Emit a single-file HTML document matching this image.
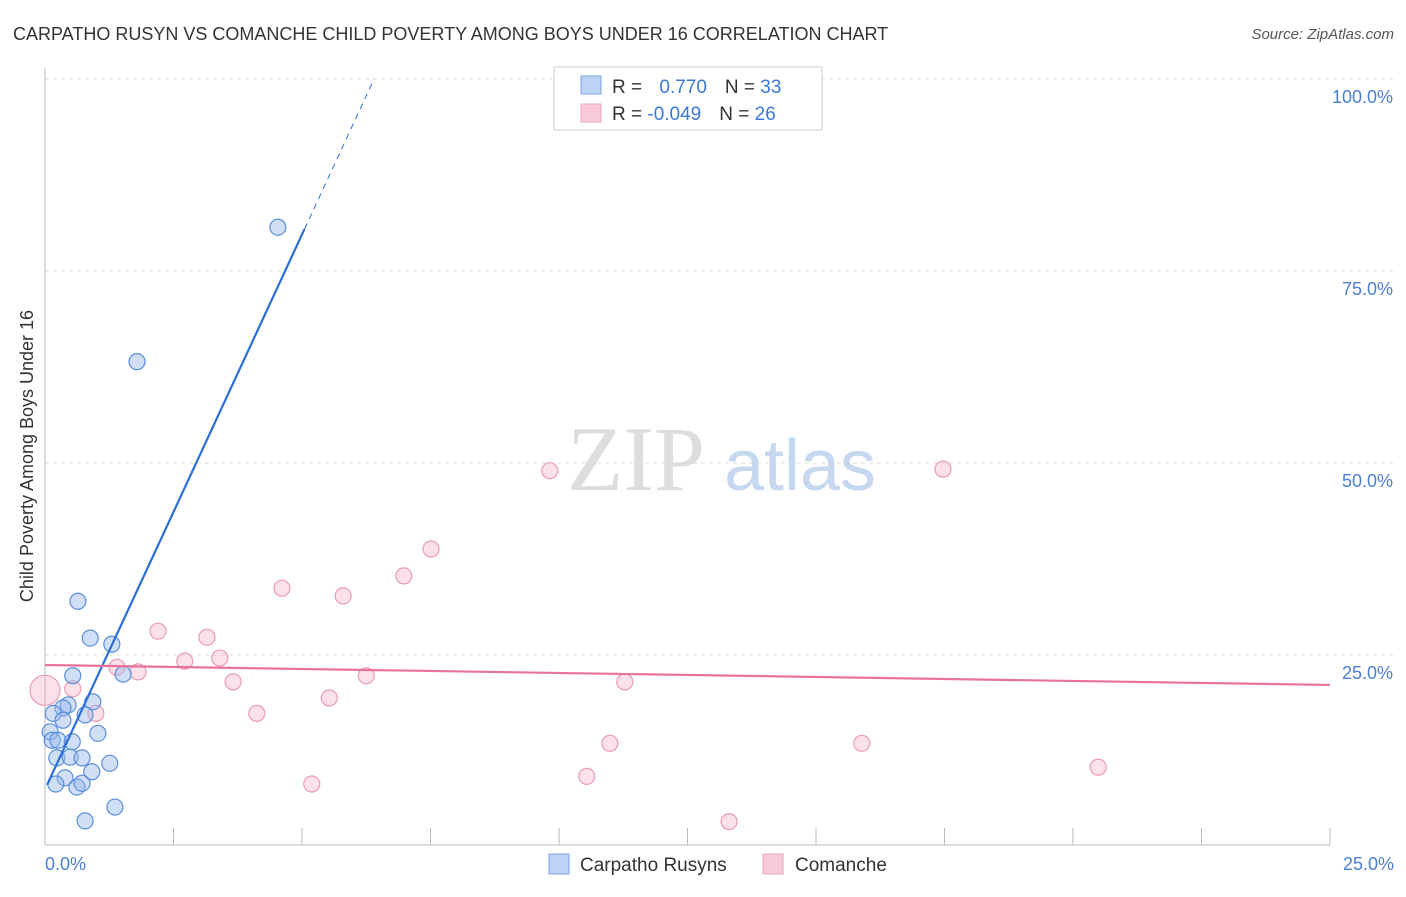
<!DOCTYPE html>
<html><head><meta charset="utf-8"><style>
body{margin:0;background:#fff;font-family:"Liberation Sans",sans-serif}
</style></head><body>
<svg width="1406" height="892" xmlns="http://www.w3.org/2000/svg">
<text x="13" y="40" font-size="18" fill="#333">CARPATHO RUSYN VS COMANCHE CHILD POVERTY AMONG BOYS UNDER 16 CORRELATION CHART</text>
<text x="1394" y="39" font-size="15" fill="#555" font-style="italic" text-anchor="end">Source: ZipAtlas.com</text>
<g id="grid"></g>
<g>
<text x="636" y="490" font-size="92" fill="#ddd" font-family="Liberation Serif" text-anchor="middle">ZIP</text>
<text x="800" y="490" font-size="72" fill="#c5d8f0" text-anchor="middle">atlas</text>
</g>
<line x1="45" y1="68" x2="45" y2="845" stroke="#bbb"/>
<line x1="45" y1="845" x2="1330" y2="845" stroke="#bbb"/>
<g id="xticks"></g>
<g id="ylabels"></g>
<text x="45" y="870" font-size="18" fill="#4a7fd4">0.0%</text>
<text x="1394" y="870" font-size="18" fill="#4a7fd4" text-anchor="end">25.0%</text>
<text transform="translate(33,456) rotate(-90)" font-size="18" fill="#333" text-anchor="middle">Child Poverty Among Boys Under 16</text>
<g id="pts"></g>
<g id="lines"></g>
<g>
<rect x="554" y="67" width="268" height="63" fill="#fff" stroke="#ccc"/>
<rect x="581" y="76" width="20" height="18" fill="#bcd3f5" stroke="#7ba3e0"/>
<rect x="581" y="104" width="20" height="18" fill="#f9cad9" stroke="#eba5bd"/>
<text x="612" y="93" font-size="19" fill="#333">R = <tspan fill="#3a78d8" dx="12">0.770</tspan><tspan dx="18">N = </tspan><tspan fill="#3a78d8">33</tspan></text>
<text x="612" y="120" font-size="19" fill="#333">R = <tspan fill="#3a78d8">-0.049</tspan><tspan dx="18">N = </tspan><tspan fill="#3a78d8">26</tspan></text>
</g>
<g>
<rect x="549" y="854" width="20" height="20" fill="#bcd3f5" stroke="#7ba3e0"/>
<text x="580" y="871" font-size="19" fill="#333">Carpatho Rusyns</text>
<rect x="763" y="854" width="20" height="20" fill="#f9cad9" stroke="#eba5bd"/>
<text x="795" y="871" font-size="19" fill="#333">Comanche</text>
</g>
</svg>
<script>
const blueX=[0.64,0.88,1.30,0.54,1.52,0.45,0.93,0.35,0.16,0.35,0.10,0.78,1.03,0.14,0.25,0.53,0.23,0.49,0.72,1.26,0.91,0.39,0.21,0.62,0.72,1.36,0.78,4.53,1.79];
const blueY=[32.0,27.2,26.4,22.3,22.5,18.5,18.9,18.1,17.4,16.5,15.0,17.2,14.8,13.9,13.9,13.7,11.6,11.7,11.6,10.9,9.8,9.0,8.2,7.8,8.3,5.2,3.4,80.7,63.2];
const pinkX=[0,0.54,0.99,1.40,1.81,2.20,2.72,3.15,3.40,3.66,4.12,4.61,5.19,5.53,5.80,6.25,6.98,7.51,9.82,10.54,10.99,11.28,13.31,15.89,17.47,20.49];
const pinkY=[20.4,20.6,17.4,23.4,22.8,28.1,24.2,27.3,24.6,21.5,17.4,33.7,8.2,19.4,32.7,22.3,35.3,38.8,49.0,9.2,13.5,21.5,3.3,13.5,49.2,10.4];
const yTicks=[25,50,75,100];
const xTicks=[0,2.5,5,7.5,10,12.5,15,17.5,20,22.5,25];
const blueFit=[7.5,14.45];
const pinkFit=[23.7,-0.104];
const NS="http://www.w3.org/2000/svg";
const sx=v=>45+v/25*1285, sy=v=>847-v*7.68;
function mk(t,a,p){const e=document.createElementNS(NS,t);for(const k in a)e.setAttribute(k,a[k]);p.appendChild(e);return e;}
const grid=document.getElementById('grid'),yl=document.getElementById('ylabels'),xt=document.getElementById('xticks');
yTicks.forEach(v=>{
 const l=mk('line',{x1:45,x2:1394,y1:sy(v),y2:sy(v),stroke:'#ddd','stroke-dasharray':'4,4'},grid);
 
 
 const t=mk('text',{x:1393,y:sy(v)+24,'font-size':18,fill:'#4a7fd4','text-anchor':'end'},yl);
 t.textContent=v.toFixed(1)+'%';
 
 
});
xTicks.forEach(v=>{
 const l=mk('line',{x1:sx(v),x2:sx(v),y1:828,y2:845,stroke:'#bbb'},xt);
 
 
});
const pts=document.getElementById('pts');
pinkX.forEach((x,i)=>{
 const c=mk('circle',{cx:sx(x),cy:sy(pinkY[i]),r:i===0?15:8,fill:'rgba(245,170,195,0.35)',stroke:'#e99bb6','stroke-width':1.2},pts);
 
 
});
blueX.forEach((x,i)=>{
 const c=mk('circle',{cx:sx(x),cy:sy(blueY[i]),r:8,fill:'rgba(150,185,235,0.45)',stroke:'#5b8fdb','stroke-width':1.2},pts);
 
 
});
const lines=document.getElementById('lines');
const bx0=0.04,bx1=5.05,bx2=(100-blueFit[0])/blueFit[1];
const b1=mk('line',{x1:sx(bx0),y1:sy(blueFit[0]+blueFit[1]*bx0),x2:sx(bx1),y2:sy(blueFit[0]+blueFit[1]*bx1),stroke:'#2b6fd6','stroke-width':2.2},lines);


const b2=mk('line',{x1:sx(bx1),y1:sy(blueFit[0]+blueFit[1]*bx1),x2:sx(bx2),y2:sy(100),stroke:'#2b6fd6','stroke-width':1,'stroke-dasharray':'6,5'},lines);


const p1=mk('line',{x1:sx(0),y1:sy(pinkFit[0]),x2:sx(25),y2:sy(pinkFit[0]+pinkFit[1]*25),stroke:'#e8729a','stroke-width':2.2},lines);


</script>
</body></html>
